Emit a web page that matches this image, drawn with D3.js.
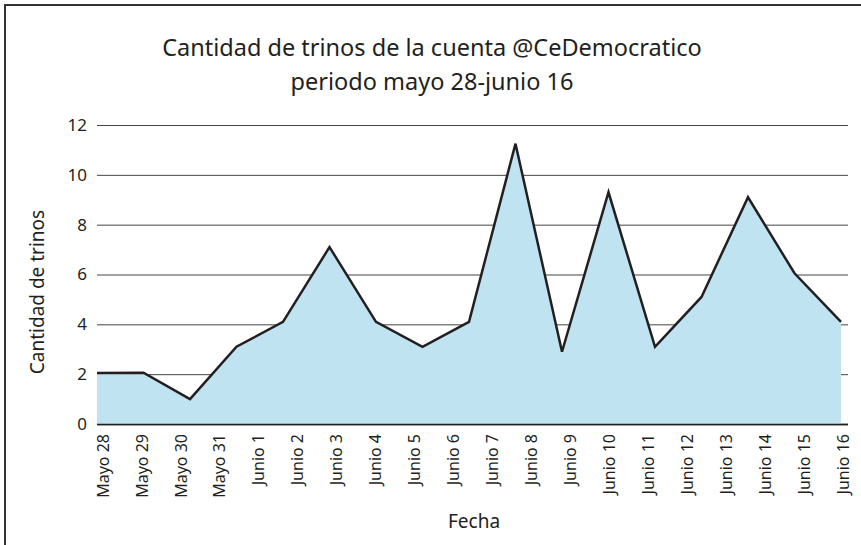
<!DOCTYPE html>
<html>
<head>
<meta charset="utf-8">
<script src="https://cdn.jsdelivr.net/npm/d3@7"></script>
<style>
  body { margin: 0; background: #fff; }
  svg { display: block; font-family: "Noto Sans", "Open Sans", sans-serif; }
</style>
</head>
<body>
<div id="svg-area"></div>
<script>
// trinos por día, @CeDemocratico
const categories = ['Mayo 28', 'Mayo 29', 'Mayo 30', 'Mayo 31', 'Junio 1', 'Junio 2', 'Junio 3',
  'Junio 4', 'Junio 5', 'Junio 6', 'Junio 7', 'Junio 8', 'Junio 9', 'Junio 10', 'Junio 11',
  'Junio 12', 'Junio 13', 'Junio 14', 'Junio 15', 'Junio 16'];
const values = [2.05, 2.06, 1.0, 3.1, 4.1, 7.1, 4.1, 3.1, 4.1, 11.25, 2.9, 9.3, 3.1, 5.1, 9.1, 6.05, 4.1];
const yTicks = [0, 2, 4, 6, 8, 10, 12];

const width = 861;
const height = 545;
const margin = {top: 125, left: 97, bottom: 121, right: 13};

const svg = d3.select('#svg-area').append('svg')
  .attr('width', width).attr('height', height);

// marco
svg.append('rect')
  .attr('x', 5).attr('y', 5)
  .attr('width', 900).attr('height', 600)
  .attr('fill', 'none').attr('stroke', '#333').attr('stroke-width', 2);

const y = d3.scaleLinear()
  .domain([0, 12])
  .range([height - margin.bottom, margin.top]);

// posiciones de la serie (17 puntos) y de las etiquetas (20 categorías)
const xs = d3.scalePoint()
  .domain(d3.range(values.length))
  .range([97, 841]);

const xl = d3.scalePoint()
  .domain(categories)
  .range([103, 843]);

const yAxis = g => g
  .attr('transform', `translate(${margin.left}, 0)`)
  .call(d3.axisLeft(y).tickValues(yTicks).tickSize(0).tickPadding(10))
  .call(g => g.select('.domain').remove())
  .call(g => g.selectAll('text').attr('font-size', 17).attr('fill', '#231f20')
    .attr('font-family', '"Noto Sans", sans-serif'));

svg.append('g')
  .selectAll('line').data(yTicks).enter().append('line')
  .attr('x1', margin.left).attr('x2', width - margin.right)
  .attr('y1', d => y(d) + 0.5).attr('y2', d => y(d) + 0.5)
  .attr('stroke', d => d === 0 ? '#231f20' : '#444')
  .attr('stroke-width', d => d === 0 ? 1.5 : 1);

svg.append('g').call(yAxis);

const area = d3.area()
  .x((d, i) => xs(i))
  .y0(y(0))
  .y1(d => y(d));

const line = d3.line()
  .x((d, i) => xs(i))
  .y(d => y(d));

svg.append('path')
  .datum(values)
  .attr('d', area)
  .attr('fill', '#c0e3f2');

// línea base sobre el área
svg.append('line')
  .attr('x1', margin.left).attr('x2', width - margin.right)
  .attr('y1', y(0) + 0.5).attr('y2', y(0) + 0.5)
  .attr('stroke', '#231f20').attr('stroke-width', 1.5);

svg.append('path')
  .datum(values)
  .attr('d', line)
  .attr('fill', 'none')
  .attr('stroke', '#231f20')
  .attr('stroke-width', 2.5)
  .attr('stroke-linejoin', 'miter');

// etiquetas del eje x
svg.append('g')
  .selectAll('text').data(categories).enter().append('text')
  .attr('transform', d => `translate(${xl(d)}, 434) rotate(-90)`)
  .attr('text-anchor', 'end')
  .attr('dy', '0.35em')
  .attr('font-size', 16)
  .attr('fill', '#231f20')
  .text(d => d);

// títulos
const title = svg.append('text')
  .attr('text-anchor', 'middle')
  .attr('font-size', 23.5)
  .attr('fill', '#231f20');
title.append('tspan').attr('x', 432).attr('y', 56).text('Cantidad de trinos de la cuenta @CeDemocratico');
title.append('tspan').attr('x', 432).attr('y', 90).text('periodo mayo 28-junio 16');

svg.append('text')
  .attr('x', 474).attr('y', 528)
  .attr('text-anchor', 'middle')
  .attr('font-size', 19)
  .attr('fill', '#231f20')
  .text('Fecha');

svg.append('text')
  .attr('transform', 'translate(44, 292) rotate(-90)')
  .attr('text-anchor', 'middle')
  .attr('font-size', 19)
  .attr('fill', '#231f20')
  .text('Cantidad de trinos');
</script>
</body>
</html>
